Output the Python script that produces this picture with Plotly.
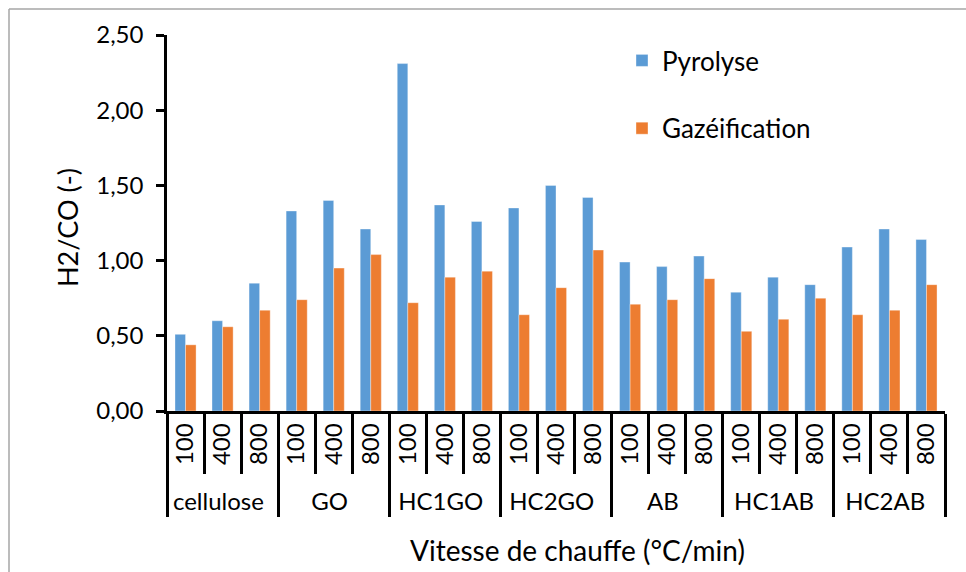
import plotly.graph_objects as go

# Samples and heating rates (°C/min)
samples = ["cellulose", "GO", "HC1GO", "HC2GO", "AB", "HC1AB", "HC2AB"]
rates = ["100", "400", "800"]

# H2/CO ratio for each sample, at 100 / 400 / 800 °C/min
pyrolyse = [
    0.51, 0.60, 0.85,   # cellulose
    1.33, 1.40, 1.21,   # GO
    2.31, 1.37, 1.26,   # HC1GO
    1.35, 1.50, 1.42,   # HC2GO
    0.99, 0.96, 1.03,   # AB
    0.79, 0.89, 0.84,   # HC1AB
    1.09, 1.21, 1.14,   # HC2AB
]
gazeification = [
    0.44, 0.56, 0.67,
    0.74, 0.95, 1.04,
    0.72, 0.89, 0.93,
    0.64, 0.82, 1.07,
    0.71, 0.74, 0.88,
    0.53, 0.61, 0.75,
    0.64, 0.67, 0.84,
]

outer = [s for s in samples for _ in rates]
inner = [r for _ in samples for r in rates]
x_cats = [outer, inner]

FONT = "Lato, Calibri, Carlito, sans-serif"
BLUE = "#5B9BD5"
ORANGE = "#ED7D31"

fig = go.Figure()
fig.add_trace(go.Bar(
    x=x_cats, y=pyrolyse, name="Pyrolyse",
    marker=dict(color=BLUE, line=dict(color="rgba(255,255,255,0.6)", width=0.6)),
    legendgroup="p",
))
fig.add_trace(go.Bar(
    x=x_cats, y=gazeification, name="Gazéification",
    marker=dict(color=ORANGE, line=dict(color="rgba(255,255,255,0.6)", width=0.6)),
    legendgroup="g",
))

L, R, T, B = 167, 21, 35, 161
W, H = 966, 572
pw, ph = W - L - R, H - T - B


def px_x(x):
    return (x - L) / pw


def px_y(y):
    return (H - B - y) / ph


fig.update_layout(
    width=W, height=H,
    margin=dict(l=L, r=R, t=T, b=B, pad=0),
    paper_bgcolor="white", plot_bgcolor="white",
    font=dict(family=FONT, size=24, color="black"),
    separators=", ",
    barmode="group",
    bargap=0.43,
    bargroupgap=0,
    showlegend=True,
    legend=dict(
        x=px_x(622), y=px_y(37), xanchor="left", yanchor="top",
        font=dict(size=26, family=FONT, color="black"),
        tracegroupgap=31,
        traceorder="grouped",
        bgcolor="rgba(0,0,0,0)",
        borderwidth=0,
    ),
    xaxis=dict(
        type="multicategory",
        showline=True, linecolor="black", linewidth=2.5,
        ticks="outside", ticklen=60, tickwidth=2.5, tickcolor="black",
        tickangle=-90,
        showdividers=True, dividercolor="black", dividerwidth=2.5,
        tickfont=dict(size=24, family=FONT, color="black"),
        showgrid=False,
    ),
    yaxis=dict(
        range=[0, 2.5],
        dtick=0.5,
        tickformat=".2f",
        showline=True, linecolor="black", linewidth=2.5,
        ticks="outside", ticklen=8, tickwidth=2.5, tickcolor="black",
        ticklabelstandoff=8,
        showgrid=False, zeroline=False,
        tickfont=dict(size=24, family=FONT, color="black"),
    ),
    annotations=[
        dict(text="H2/CO (-)", x=px_x(67), y=px_y(228), xref="paper", yref="paper",
             xanchor="center", yanchor="middle",
             textangle=-90, showarrow=False, font=dict(size=27, family=FONT, color="black")),
        dict(text="Vitesse de chauffe (°C/min)", x=px_x(577), y=px_y(550),
             xref="paper", yref="paper", xanchor="center", yanchor="middle",
             showarrow=False,
             font=dict(size=28, family=FONT, color="black")),
    ],
    shapes=[
        # chart-area frame (top and left edges)
        dict(type="line", xref="paper", yref="paper",
             x0=px_x(9), y0=px_y(9), x1=px_x(966), y1=px_y(9),
             line=dict(color="#A6A6A6", width=1.5)),
        dict(type="line", xref="paper", yref="paper",
             x0=px_x(9), y0=px_y(9), x1=px_x(9), y1=px_y(572),
             line=dict(color="#A6A6A6", width=1.5)),
    ],
)

fig.write_html("out.html")
